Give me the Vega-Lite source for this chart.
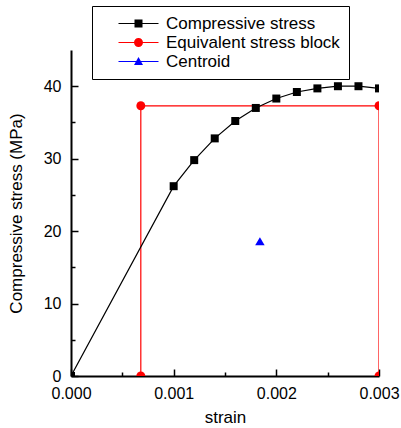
{
  "$schema": "https://vega.github.io/schema/vega-lite/v6.json",
  "width": 308,
  "height": 326,
  "autosize": "none",
  "padding": {"left": 71, "top": 50, "right": 22, "bottom": 52},
  "background": "white",
  "config": {
    "view": {"stroke": null},
    "font": "Liberation Sans",
    "axis": {
      "domainColor": "black",
      "domainWidth": 2,
      "tickColor": "black",
      "tickWidth": 1.5,
      "grid": false,
      "labelColor": "black",
      "titleColor": "black",
      "labelFont": "Liberation Sans",
      "titleFont": "Liberation Sans",
      "labelFontSize": 16,
      "titleFontSize": 17,
      "titleFontWeight": "normal"
    }
  },
  "data": {
    "values": [
      {"series": "Equivalent stress block", "i": 0, "strain": 0.00068, "stress": 0},
      {"series": "Equivalent stress block", "i": 1, "strain": 0.00068, "stress": 37.3},
      {"series": "Equivalent stress block", "i": 2, "strain": 0.003, "stress": 37.3},
      {"series": "Equivalent stress block", "i": 3, "strain": 0.003, "stress": 0},
      {"series": "Compressive stress", "i": 0, "strain": 0, "stress": 0},
      {"series": "Compressive stress", "i": 1, "strain": 0.001, "stress": 26.2},
      {"series": "Compressive stress", "i": 2, "strain": 0.0012, "stress": 29.8},
      {"series": "Compressive stress", "i": 3, "strain": 0.0014, "stress": 32.8},
      {"series": "Compressive stress", "i": 4, "strain": 0.0016, "stress": 35.2},
      {"series": "Compressive stress", "i": 5, "strain": 0.0018, "stress": 37.0},
      {"series": "Compressive stress", "i": 6, "strain": 0.002, "stress": 38.3},
      {"series": "Compressive stress", "i": 7, "strain": 0.0022, "stress": 39.2},
      {"series": "Compressive stress", "i": 8, "strain": 0.0024, "stress": 39.7},
      {"series": "Compressive stress", "i": 9, "strain": 0.0026, "stress": 40.0},
      {"series": "Compressive stress", "i": 10, "strain": 0.0028, "stress": 40.0},
      {"series": "Compressive stress", "i": 11, "strain": 0.003, "stress": 39.7},
      {"series": "Centroid", "i": 0, "strain": 0.00184, "stress": 18.6}
    ]
  },
  "encoding": {
    "x": {
      "field": "strain",
      "type": "quantitative",
      "scale": {"domain": [0, 0.003], "nice": false, "zero": false},
      "axis": {
        "title": "strain",
        "values": [0, 0.0005, 0.001, 0.0015, 0.002, 0.0025, 0.003],
        "labelExpr": "round(datum.value*2000) % 2 == 0 ? format(datum.value, '.3f') : ''",
        "tickSize": {"condition": {"test": "round(datum.value*2000) % 2 == 0", "value": -7}, "value": -4},
        "labelPadding": 16,
        "titlePadding": 5,
        "labelFlush": false,
        "labelOverlap": false
      }
    },
    "y": {
      "field": "stress",
      "type": "quantitative",
      "scale": {"domain": [0, 45], "nice": false},
      "axis": {
        "title": "Compressive stress (MPa)",
        "values": [0, 5, 10, 15, 20, 25, 30, 35, 40],
        "labelExpr": "datum.value % 10 == 0 ? datum.label : ''",
        "tickSize": {"condition": {"test": "datum.value % 10 == 0", "value": -7}, "value": -4},
        "labelPadding": 17,
        "titlePadding": 18,
        "labelFlush": false,
        "labelOverlap": false
      }
    }
  },
  "layer": [
    {
      "transform": [{"filter": "datum.series === 'Equivalent stress block'"}],
      "mark": {"type": "line", "clip": true, "strokeWidth": 1.2, "color": "#ff0000"},
      "encoding": {"order": {"field": "i", "type": "quantitative"}}
    },
    {
      "transform": [{"filter": "datum.series === 'Compressive stress'"}],
      "mark": {"type": "line", "clip": true, "strokeWidth": 1.2, "color": "#000000"},
      "encoding": {"order": {"field": "i", "type": "quantitative"}}
    },
    {
      "transform": [{"filter": "datum.series === 'Equivalent stress block'"}],
      "mark": {"type": "point", "shape": "circle", "size": 80, "filled": true, "opacity": 1, "clip": true, "color": "#ff0000"},
      "encoding": {}
    },
    {
      "transform": [{"filter": "datum.series === 'Compressive stress'"}],
      "mark": {"type": "point", "shape": "square", "size": 64, "filled": true, "opacity": 1, "clip": true, "color": "#000000"},
      "encoding": {}
    },
    {
      "transform": [{"filter": "datum.series === 'Centroid'"}],
      "mark": {"type": "point", "shape": "triangle-up", "size": 90, "filled": true, "opacity": 1, "clip": true, "color": "#0000ff"},
      "encoding": {}
    },
    {
      "transform": [{"filter": "false"}],
      "mark": {"type": "point", "filled": true, "opacity": 1},
      "encoding": {
        "color": {
          "field": "series",
          "type": "nominal",
          "scale": {
            "domain": ["Compressive stress", "Equivalent stress block", "Centroid"],
            "range": ["#000000", "#ff0000", "#0000ff"]
          },
          "legend": {
            "orient": "none",
            "legendX": 21,
            "legendY": -44,
            "title": null,
            "strokeColor": "black",
            "fillColor": "white",
            "padding": 9,
            "labelFont": "Liberation Sans",
            "labelFontSize": 17,
            "labelColor": "black",
            "labelLimit": 400,
            "symbolSize": 100,
            "symbolOffset": 29,
            "labelOffset": 19,
            "rowPadding": 1,
            "symbolStrokeWidth": 0,
            "symbolOpacity": 1
          }
        },
        "shape": {
          "field": "series",
          "type": "nominal",
          "scale": {
            "domain": ["Compressive stress", "Equivalent stress block", "Centroid"],
            "range": [
              "M-4,-0.11H4V0.11H-4Z M-0.8,-0.8H0.8V0.8H-0.8Z",
              "M-4,-0.11H4V0.11H-4Z M0.9,0A0.9,0.9 0 1,1 -0.9,0A0.9,0.9 0 1,1 0.9,0Z",
              "M-4,-0.11H4V0.11H-4Z M0,-0.9L0.9,0.7L-0.9,0.7Z"
            ]
          },
          "legend": {
            "orient": "none",
            "legendX": 21,
            "legendY": -44,
            "title": null,
            "strokeColor": "black",
            "fillColor": "white",
            "padding": 9,
            "labelFont": "Liberation Sans",
            "labelFontSize": 17,
            "labelColor": "black",
            "labelLimit": 400,
            "symbolSize": 100,
            "symbolOffset": 29,
            "labelOffset": 19,
            "rowPadding": 1,
            "symbolStrokeWidth": 0,
            "symbolOpacity": 1
          }
        }
      }
    }
  ]
}
